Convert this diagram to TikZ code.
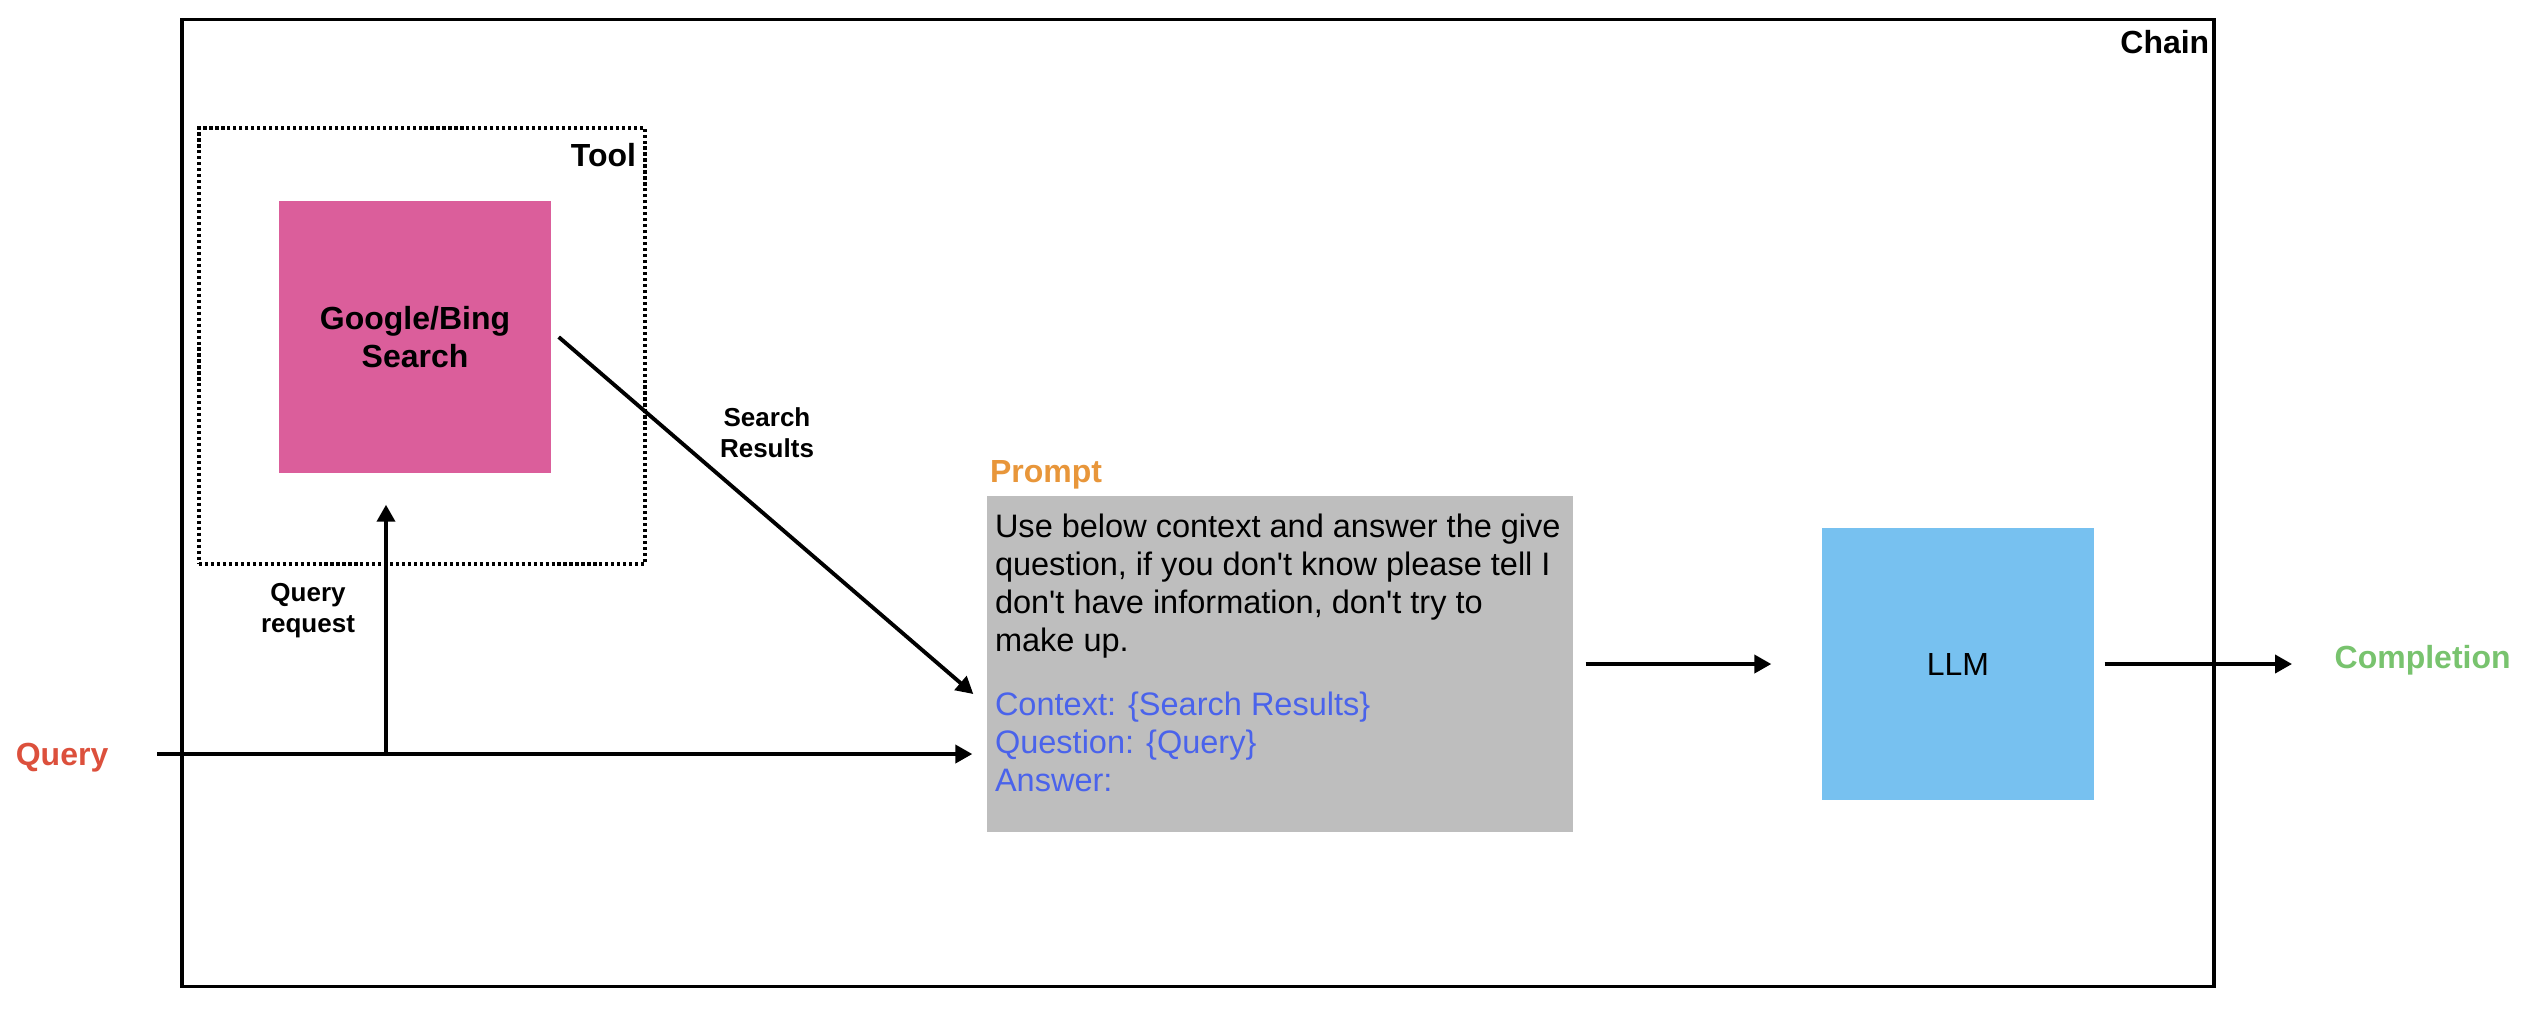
\documentclass[tikz,border=0pt]{standalone}
\usepackage{fontspec}
\setmainfont{Liberation Sans}
\usetikzlibrary{arrows.meta}
\definecolor{searchpink}{HTML}{DB5E9B}
\definecolor{llmblue}{HTML}{77C1F0}
\definecolor{promptgray}{HTML}{BEBEBE}
\definecolor{promptblue}{HTML}{4A63EB}
\definecolor{promptorange}{HTML}{E8963A}
\definecolor{queryred}{HTML}{DC503C}
\definecolor{doneGreen}{HTML}{78C36E}
\tikzset{
  flow/.style={-{Triangle[length=1.7mm,width=1.8mm]}, line width=1.1pt},
  block/.style={minimum width=27.2mm, minimum height=27.2mm, inner sep=0pt, align=center},
  tag/.style={inner sep=0pt, font=\bfseries\fontsize{9.1pt}{11pt}\selectfont},
  smalltag/.style={inner sep=0pt, align=center, font=\bfseries\fontsize{7.4pt}{8.8pt}\selectfont},
}
\newcommand{\q}{\textquotesingle}

\begin{document}
\begin{tikzpicture}[x=0.1mm, y=0.1mm]
    \useasboundingbox (0,0) rectangle (2542,-1008);

    % the chain frame
    \node (chain) [draw, line width=1.1pt, minimum width=203.2mm, minimum height=96.7mm, inner sep=0pt] at (1198,-503) {};
    \node (chainlabel) [tag, anchor=north east] at ([shift={(-6,-12)}]chain.north east) {Chain};

    % the tool
    \node (tool) [draw, line width=1pt, dash pattern=on 0.9pt off 0.8pt, minimum width=44.6mm, minimum height=43.6mm, inner sep=0pt] at (422,-346) {};
    \node (toollabel) [tag, anchor=north east] at ([shift={(-10,-16)}]tool.north east) {Tool};
    \node (search) [block, fill=searchpink, font=\bfseries\fontsize{9.1pt}{11pt}\selectfont] at (415,-337) {Google/Bing\\Search};

    % the prompt
    \node (prompt) [fill=promptgray, minimum width=58.6mm, minimum height=33.6mm, inner sep=0pt] at (1280,-664) {};
    \node (promptlabel) [tag, text=promptorange, anchor=base west] at ([shift={(3,13)}]prompt.north west) {Prompt};
    \node (prompttext) [anchor=north west, align=left, inner sep=0pt, font=\fontsize{9.25pt}{10.8pt}\selectfont] at ([shift={(8,-18)}]prompt.north west)
      {Use below context and answer the give\\
       question, if you don\q t know please tell I\\
       don\q t have information, don\q t try to\\
       make up.\\[7.4pt]
       \textcolor{promptblue}{Context: \{Search Results\}}\\
       \textcolor{promptblue}{Question: \{Query\}}\\
       \textcolor{promptblue}{Answer:}};

    % the model
    \node (llm) [block, fill=llmblue, font=\fontsize{9.1pt}{11pt}\selectfont] at (1958,-664) {LLM};

    % in and out
    \node (query) [tag, text=queryred, anchor=east] at (109,-758) {Query};
    \node (completion) [tag, text=doneGreen, anchor=west] at (2334,-660) {Completion};

    \coordinate (qjoin) at (386,-754);
    \draw [flow, shorten <=4.8mm, shorten >=1.4mm] (query.east |- qjoin) -- (qjoin -| prompt.west);
    \draw [flow, shorten >=3.1mm] (qjoin) -- (qjoin |- search.south);
    \node (qreqlabel) [smalltag] at (308,-611) {Query\\request};

    \draw [flow] ([xshift=0.7mm]search.east) -- ([shift={(-13,-30)}]prompt.west);
    \node (srlabel) [smalltag] at (767,-433) {Search\\Results};

    \draw [flow, shorten <=1.2mm, shorten >=5mm] (prompt.east) -- (llm.west);
    \draw [flow, shorten <=1mm, shorten >=4.2mm] (llm.east) -- (llm.east -| completion.west);
\end{tikzpicture}
\end{document}
